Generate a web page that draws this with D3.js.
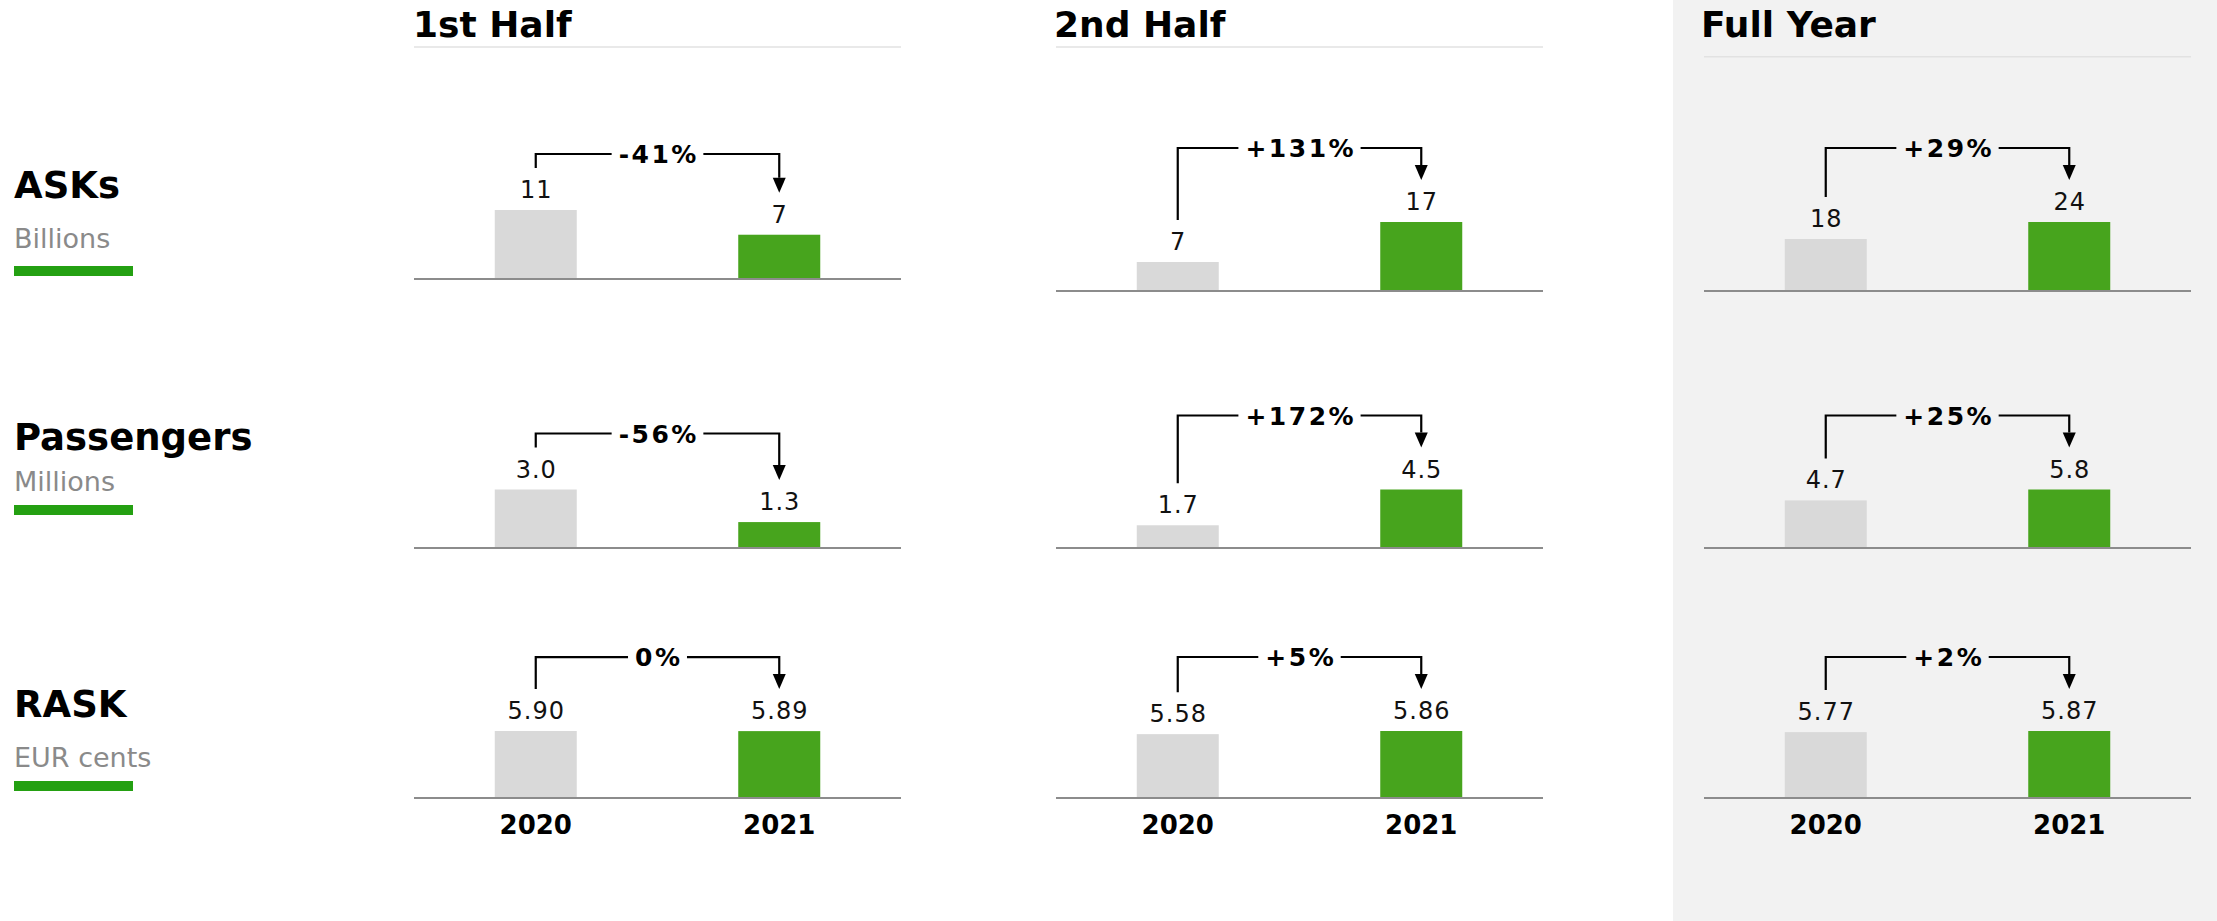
<!DOCTYPE html>
<html>
<head>
<meta charset="utf-8">
<title>ASKs, Passengers and RASK: 2020 vs 2021</title>
<script src="https://cdn.jsdelivr.net/npm/d3@7"></script>
<style>
  html, body { margin: 0; padding: 0; background: #ffffff; }
  svg { display: block; font-family: "DejaVu Sans", Verdana, sans-serif; }
</style>
</head>
<body>
<svg id="chart" width="2217" height="921"></svg>
<script>
// ---- data ----
const years = ["2020", "2021"];
const periods = ["1st Half", "2nd Half", "Full Year"];
const metrics = ["ASKs", "Passengers", "RASK"];
const units = ["Billions", "Millions", "EUR cents"];

const asks2020 = [11, 7, 18];
const asks2021 = [7, 17, 24];
const passengers2020 = [3.0, 1.7, 4.7];
const passengers2021 = [1.3, 4.5, 5.8];
const rask2020 = [5.90, 5.58, 5.77];
const rask2021 = [5.89, 5.86, 5.87];

const asksChange = ["-41%", "+131%", "+29%"];
const passengersChange = ["-56%", "+172%", "+25%"];
const raskChange = ["0%", "+5%", "+2%"];

const valueFormats = [".0f", ".1f", ".2f"];

// ---- layout ----
const W = 2217, H = 921;
const panelX = [414, 1056, 1704];
const titleX = [413, 1054, 1701];
const panelW = 487;
const rowBase = [[278, 290, 290], [547, 547, 547], [797, 797, 797]];
const rowBarMax = [68, 57.5, 66];
const barW = 82;
const titleBaseline = 37;
const titleRuleY = [47, 47, 56.7];
const highlightX = 1673;
const rowLabelY = [
  { name: 197.7, unit: 248.3, rule: 266 },
  { name: 450, unit: 490.7, rule: 505 },
  { name: 717, unit: 767, rule: 781 }
];

const colors = {
  prev: "#d9d9d9",
  curr: "#47a41d",
  rule: "#24a012",
  axis: "#8c8c8c",
  panelBg: "#f2f2f2",
  titleRule: "#e2e2e2",
  unit: "#8a8a8a"
};

const rows = [
  { a: asks2020, b: asks2021, change: asksChange },
  { a: passengers2020, b: passengers2021, change: passengersChange },
  { a: rask2020, b: rask2021, change: raskChange }
];

const svg = d3.select("#chart");

// highlighted full-year column
svg.append("rect")
  .attr("x", highlightX).attr("y", 0)
  .attr("width", W - highlightX).attr("height", H)
  .attr("fill", colors.panelBg);

// column headings
periods.forEach((p, j) => {
  svg.append("text")
    .attr("x", titleX[j]).attr("y", titleBaseline)
    .attr("font-size", 36).attr("font-weight", "bold")
    .attr("fill", "#000")
    .text(p);
  svg.append("line")
    .attr("x1", panelX[j]).attr("x2", panelX[j] + panelW)
    .attr("y1", titleRuleY[j]).attr("y2", titleRuleY[j])
    .attr("stroke", colors.titleRule).attr("stroke-width", 1.5);
});

// row headings
metrics.forEach((m, i) => {
  const ly = rowLabelY[i];
  svg.append("text")
    .attr("x", 14).attr("y", ly.name)
    .attr("font-size", 37).attr("font-weight", "bold")
    .attr("fill", "#000")
    .text(m);
  svg.append("text")
    .attr("x", 14).attr("y", ly.unit)
    .attr("font-size", 27)
    .attr("fill", colors.unit)
    .text(units[i]);
  svg.append("rect")
    .attr("x", 14).attr("y", ly.rule)
    .attr("width", 119).attr("height", 10)
    .attr("fill", colors.rule);
});

const x = d3.scalePoint().domain(years).range([0, panelW]).padding(0.5);

const pctSize = 25, pctSpacing = 2.5;

rows.forEach((row, i) => {
  const fmt = d3.format(valueFormats[i]);
  periods.forEach((p, j) => {
    const base = rowBase[i][j];
    const vals = [row.a[j], row.b[j]];
    const y = d3.scaleLinear()
      .domain([0, d3.max(vals)])
      .range([base, base - rowBarMax[i]]);
    const bg = j === 2 ? colors.panelBg : "#ffffff";

    const g = svg.append("g").attr("transform", `translate(${panelX[j]},0)`);

    // baseline
    g.append("rect")
      .attr("x", 0).attr("y", base)
      .attr("width", panelW).attr("height", 2)
      .attr("fill", colors.axis);

    const data = years.map((yr, k) => ({ yr, v: vals[k], k }));

    g.selectAll("rect.bar").data(data).join("rect")
      .attr("class", "bar")
      .attr("x", d => x(d.yr) - barW / 2)
      .attr("y", d => y(d.v))
      .attr("width", barW)
      .attr("height", d => base - y(d.v))
      .attr("fill", d => d.k === 0 ? colors.prev : colors.curr);

    g.selectAll("text.val").data(data).join("text")
      .attr("class", "val")
      .attr("x", d => x(d.yr) + 0.5)
      .attr("y", d => y(d.v) - 12)
      .attr("text-anchor", "middle")
      .attr("font-size", 24)
      .attr("letter-spacing", 1)
      .attr("fill", "#111")
      .text(d => fmt(d.v));

    if (i === rows.length - 1) {
      g.selectAll("text.yr").data(data).join("text")
        .attr("class", "yr")
        .attr("x", d => x(d.yr))
        .attr("y", base + 37)
        .attr("text-anchor", "middle")
        .attr("font-size", 26).attr("font-weight", "bold")
        .attr("fill", "#000")
        .text(d => d.yr);
    }

    // change bracket from 2020 to 2021
    const x0 = x(years[0]), x1 = x(years[1]);
    const leftEnd = y(vals[0]) - 42;
    const rightEnd = y(vals[1]) - 42;
    const head = 15, headHalf = 6.5;
    const by = Math.min(leftEnd - 14, rightEnd - 32);

    g.append("path")
      .attr("d", `M${x0},${leftEnd}V${by}H${x1}V${rightEnd - head}`)
      .attr("fill", "none")
      .attr("stroke", "#000")
      .attr("stroke-width", 2.2);

    g.append("path")
      .attr("d", `M${x1 - headHalf},${rightEnd - head}L${x1 + headHalf},${rightEnd - head}L${x1},${rightEnd}Z`)
      .attr("fill", "#000");

    const mid = (x0 + x1) / 2;
    const gapRect = g.append("rect").attr("fill", bg);
    const pct = g.append("text")
      .attr("x", mid + pctSpacing / 2)
      .attr("y", by + 9)
      .attr("text-anchor", "middle")
      .attr("font-size", pctSize)
      .attr("font-weight", "bold")
      .attr("letter-spacing", pctSpacing)
      .attr("fill", "#000")
      .text(row.change[j]);
    const tw = pct.node().getComputedTextLength() - pctSpacing;
    gapRect
      .attr("x", mid - tw / 2 - 7)
      .attr("y", by - 4)
      .attr("width", tw + 14)
      .attr("height", 8);
  });
});
</script>
</body>
</html>
